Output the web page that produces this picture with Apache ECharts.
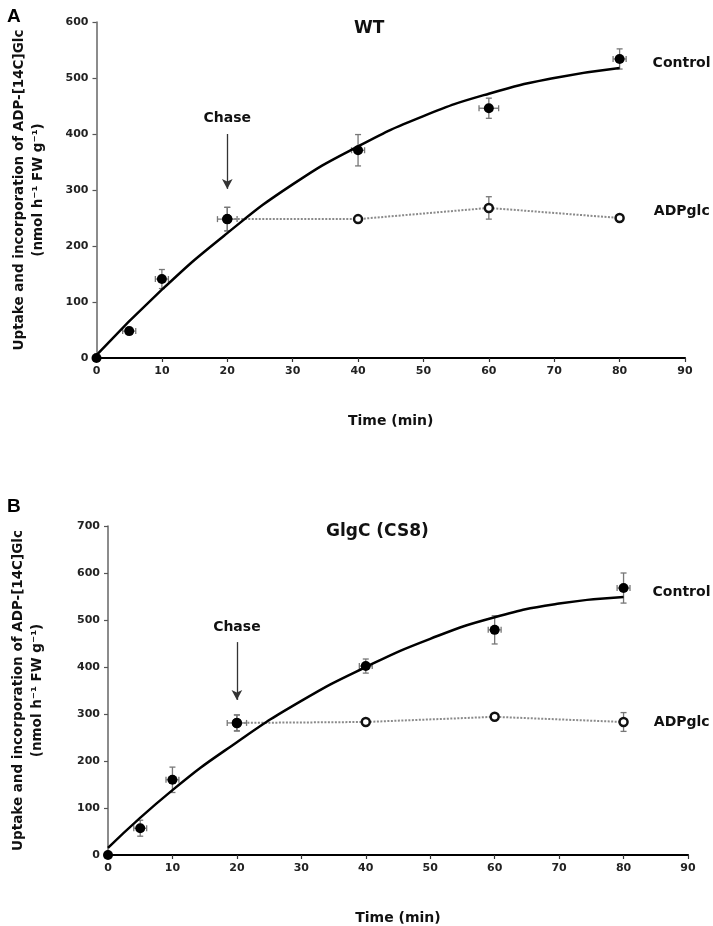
<!DOCTYPE html>
<html>
<head>
<meta charset="utf-8">
<script src="https://cdn.jsdelivr.net/npm/echarts@6/dist/echarts.min.js"></script>
<style>html,body{margin:0;padding:0;background:#fff;}#c{width:713px;height:926px;}</style>
</head>
<body>
<div id="c"></div>
<script>
// ---- Panel A (WT) ----
const timeA = [0, 5, 10, 20, 40, 60, 80];
const controlA = [0, 48, 141, 248, 371, 446, 534];
const controlErrA = [0, 5, 17, 21, 28, 18, 18];
const controlXErrA = [0, 1, 1, 1.5, 1, 1.5, 1];
const adpTimeA = [20, 40, 60, 80];
const adpA = [248, 248, 268, 250];
const adpErrA = [21, 4, 20, 6];
const fitTimeA = [0, 10, 20, 30, 40, 50, 60, 70, 80];
const fitA = [5, 122, 223, 310, 378, 432, 472, 500, 518];

// ---- Panel B (GlgC CS8) ----
const timeB = [0, 5, 10, 20, 40, 60, 80];
const controlB = [0, 57, 160, 281, 402, 479, 568];
const controlErrB = [0, 17, 27, 17, 15, 30, 32];
const controlXErrB = [0, 1, 1, 1.5, 1, 1, 1];
const adpTimeB = [20, 40, 60, 80];
const adpB = [281, 283, 294, 283];
const adpErrB = [17, 5, 5, 20];
const fitTimeB = [0, 10, 20, 30, 40, 50, 60, 70, 80];
const fitB = [15, 138, 240, 328, 400, 460, 506, 535, 549];

const xTicks = [0, 10, 20, 30, 40, 50, 60, 70, 80, 90];
const yMaxA = 600, yMaxB = 700;
const chaseA = [[20, 400], [20, 302]];
const chaseB = [[20, 453], [20, 330]];

const FONT = '"DejaVu Sans", sans-serif';
const FONT_L = '"Liberation Sans", Arial, sans-serif';

function pairs(xs, ys) { return xs.map((x, i) => [x, ys[i]]); }
function errData(xs, ys, es, xes) { return xs.map((x, i) => [x, ys[i], es[i], xes ? xes[i] : 0]); }

function errSeries(idx, data) {
  return {
    type: 'custom', xAxisIndex: idx, yAxisIndex: idx, z: 1, silent: true,
    renderItem: function (params, api) {
      const x = api.value(0), y = api.value(1), e = api.value(2), xe = api.value(3);
      const children = [];
      const st = { stroke: '#777', lineWidth: 1.3 };
      if (e > 0) {
        const top = api.coord([x, y + e]), bot = api.coord([x, y - e]);
        children.push({ type: 'line', shape: { x1: top[0], y1: top[1], x2: bot[0], y2: bot[1] }, style: st });
        children.push({ type: 'line', shape: { x1: top[0] - 3, y1: top[1], x2: top[0] + 3, y2: top[1] }, style: st });
        children.push({ type: 'line', shape: { x1: bot[0] - 3, y1: bot[1], x2: bot[0] + 3, y2: bot[1] }, style: st });
      }
      if (xe > 0) {
        const l = api.coord([x - xe, y]), r = api.coord([x + xe, y]);
        children.push({ type: 'line', shape: { x1: l[0], y1: l[1], x2: r[0], y2: r[1] }, style: st });
        children.push({ type: 'line', shape: { x1: l[0], y1: l[1] - 3, x2: l[0], y2: l[1] + 3 }, style: st });
        children.push({ type: 'line', shape: { x1: r[0], y1: r[1] - 3, x2: r[0], y2: r[1] + 3 }, style: st });
      }
      return { type: 'group', children: children };
    },
    data: data
  };
}

function panelSeries(idx, time, ctrl, ctrlErr, ctrlXErr, adpT, adp, adpErr, fitT, fit, chase, lab) {
  const lastLabel = (txt, dist, dy) => ({ show: true, position: 'right', distance: dist, offset: [0, dy], formatter: txt, color: '#111', fontFamily: FONT, fontWeight: 'bold', fontSize: 14 });
  const ctrlData = pairs(time, ctrl).map((p, i, arr) => i === arr.length - 1 ? { value: p, label: lastLabel('Control', lab.dist, lab.cy) } : p);
  const adpData = pairs(adpT, adp).map((p, i, arr) => i === arr.length - 1 ? { value: p, label: lastLabel('ADPglc', lab.dist + 1, lab.ay) } : p);
  return [
    errSeries(idx, errData(time, ctrl, ctrlErr, ctrlXErr)),
    errSeries(idx, errData(adpT, adp, adpErr, null)),
    {
      type: 'line', xAxisIndex: idx, yAxisIndex: idx, data: adpData, z: 2,
      lineStyle: { color: '#8a8a8a', width: 2, type: [2, 1.5] },
      symbol: 'circle', symbolSize: 8,
      itemStyle: { color: '#fff', borderColor: '#111', borderWidth: 2.5, opacity: 1 },
      label: { show: false }
    },
    {
      type: 'line', xAxisIndex: idx, yAxisIndex: idx, data: pairs(fitT, fit), smooth: true, z: 3,
      showSymbol: false, symbol: 'none', lineStyle: { color: '#000', width: 2.5 }
    },
    {
      type: 'scatter', xAxisIndex: idx, yAxisIndex: idx, data: ctrlData, z: 4,
      symbol: 'circle', symbolSize: 10, itemStyle: { color: '#000', opacity: 1 },
      label: { show: false },
      markLine: {
        silent: true, symbol: ['none', 'arrow'], symbolSize: [8, 10],
        lineStyle: { color: '#333', width: 1.3, type: 'solid', opacity: 1 },
        label: { show: true, position: 'start', formatter: 'Chase', color: '#111', fontFamily: FONT, fontWeight: 'bold', fontSize: 14, distance: lab.chase },
        data: [[{ coord: chase[0] }, { coord: chase[1] }]]
      }
    }
  ];
}

function xAxis(idx, gridIdx) {
  return {
    type: 'value', gridIndex: gridIdx, min: 0, max: 90, interval: 10,
    name: 'Time (min)', nameLocation: 'middle', nameGap: 56,
    nameTextStyle: { fontFamily: FONT, fontWeight: 'bold', fontSize: 14, color: '#111' },
    axisLine: { lineStyle: { color: '#000', width: 2.2 } },
    axisTick: { show: true, length: 4, lineStyle: { color: '#333', width: 1.2 } },
    axisLabel: { fontFamily: FONT, fontWeight: 'bold', fontSize: 11, color: '#222', margin: 8 },
    splitLine: { show: false }
  };
}
function yAxis(gridIdx, max, gap) {
  return {
    type: 'value', gridIndex: gridIdx, min: 0, max: max, interval: 100,
    name: 'Uptake and incorporation of ADP-[14C]Glc\n(nmol h\u207B\u00B9 FW g\u207B\u00B9)',
    nameLocation: 'middle', nameGap: gap, nameRotate: 90,
    nameTextStyle: { fontFamily: FONT, fontWeight: 'bold', fontSize: 13.5, color: '#111', lineHeight: 19 },
    axisLine: { show: true, lineStyle: { color: '#666', width: 1.5 } },
    axisTick: { show: true, length: 4, lineStyle: { color: '#555', width: 1.2 } },
    axisLabel: { fontFamily: FONT, fontWeight: 'bold', fontSize: 11, color: '#222', margin: 8 },
    splitLine: { show: false }
  };
}

const chart = echarts.init(document.getElementById('c'), null, { renderer: 'canvas' });
chart.setOption({
  backgroundColor: '#fff',
  animation: false,
  title: [
    { text: 'A', left: 2, top: 2, textStyle: { fontFamily: FONT_L, fontWeight: 'bold', fontSize: 19, color: '#000' } },
    { text: 'WT', left: 349, top: 15, textStyle: { fontFamily: FONT, fontWeight: 'bold', fontSize: 17, color: '#111' } },
    { text: 'B', left: 2, top: 492, textStyle: { fontFamily: FONT_L, fontWeight: 'bold', fontSize: 19, color: '#000' } },
    { text: 'GlgC (CS8)', left: 321, top: 518, textStyle: { fontFamily: FONT, fontWeight: 'bold', fontSize: 17, color: '#111' } }
  ],
  grid: [
    { left: 96.5, right: 28, top: 22, bottom: 568 },
    { left: 108, right: 25, top: 526, bottom: 71 }
  ],
  xAxis: [xAxis(0, 0), xAxis(1, 1)],
  yAxis: [yAxis(0, yMaxA, 49), yAxis(1, yMaxB, 61)],
  series: [].concat(
    panelSeries(0, timeA, controlA, controlErrA, controlXErrA, adpTimeA, adpA, adpErrA, fitTimeA, fitA, chaseA,
      { dist: 28, cy: 4, ay: -7, chase: 9 }),
    panelSeries(1, timeB, controlB, controlErrB, controlXErrB, adpTimeB, adpB, adpErrB, fitTimeB, fitB, chaseB,
      { dist: 24, cy: 4, ay: 0, chase: 8 })
  )
});
</script>
</body>
</html>
